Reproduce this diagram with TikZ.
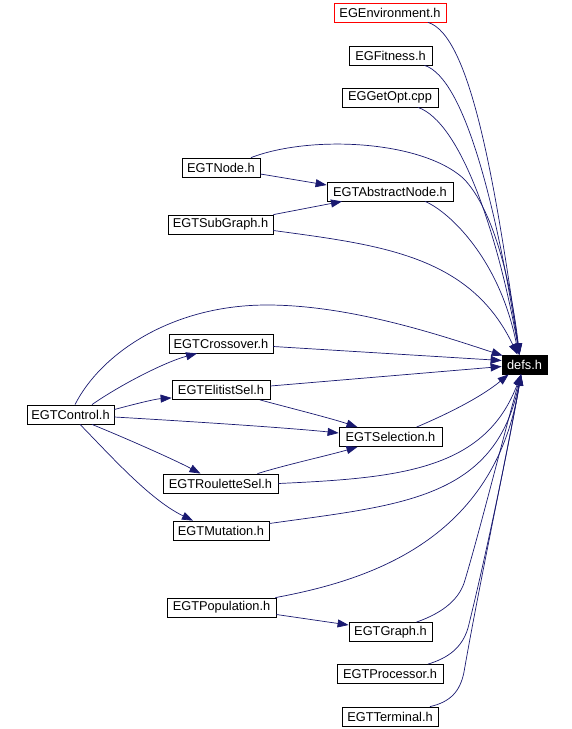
\documentclass[tikz,border=0pt]{standalone}
\usepackage{fontspec}
\setmainfont{Liberation Sans}
\usetikzlibrary{arrows.meta,calc}
\definecolor{edgeblue}{RGB}{25,25,112}
\begin{document}
\begin{tikzpicture}[x=1pt,y=-1pt,
  box/.style={draw=black,fill=white,line width=0.8pt,minimum height=19pt,inner sep=0pt,font=\fontsize{12.8}{14}\selectfont},
  redbox/.style={box,draw=red},
  defsbox/.style={box,fill=black,text=white,draw=black},
  dep/.style={draw=edgeblue,line width=0.7pt,-{Triangle[length=11pt,width=8pt]},fill=none}
]
\useasboundingbox (0,0) rectangle (572,729);
% nodes
\node[redbox,minimum width=112pt] (env) at (390,12.5) {EGEnvironment.h};
\node[box,minimum width=83pt] (fit) at (390.5,55.5) {EGFitness.h};
\node[box,minimum width=96pt] (gopt) at (390,97.5) {EGGetOpt.cpp};
\node[box,minimum width=78pt] (tnode) at (221,167.5) {EGTNode.h};
\node[box,minimum width=126pt] (absn) at (390,191.5) {EGTAbstractNode.h};
\node[box,minimum width=105pt] (subg) at (220.5,224.5) {EGTSubGraph.h};
\node[box,minimum width=104pt] (cross) at (221,343.5) {EGTCrossover.h};
\node[box,minimum width=98pt] (elit) at (221,390) {EGTElitistSel.h};
\node[box,minimum width=87pt] (ctrl) at (70.5,414.5) {EGTControl.h};
\node[defsbox,minimum width=45pt] (defs) at (524.5,364.5) {defs.h};
\node[box,minimum width=103pt] (sel) at (390.5,437) {EGTSelection.h};
\node[box,minimum width=115pt] (roul) at (220.5,483.5) {EGTRouletteSel.h};
\node[box,minimum width=96pt] (mut) at (221,530.5) {EGTMutation.h};
\node[box,minimum width=109pt] (pop) at (221.5,607.5) {EGTPopulation.h};
\node[box,minimum width=83pt] (graph) at (390.5,632) {EGTGraph.h};
\node[box,minimum width=106pt] (proc) at (390,674) {EGTProcessor.h};
\node[box,minimum width=96pt] (term) at (390,716.5) {EGTTerminal.h};
% edges into defs from above
\draw[dep] ($(env.south)+(38,0)$) .. controls (470,35) and (495,180) .. ($(defs.north)+(-5,0)$);
\draw[dep] ($(fit.south)+(34,0)$) .. controls (465,78) and (497,210) .. ($(defs.north)+(-5,0)$);
\draw[dep] ($(gopt.south)+(28,0)$) .. controls (460,122) and (497,230) .. ($(defs.north)+(-5,0)$);
\draw[dep] ($(tnode.north)+(30,0)$) .. controls (310,135) and (420,140) .. (463,178) .. controls (495,210) and (512,290) .. ($(defs.north)+(-5,0)$);
\draw[dep] ($(absn.south)+(35,0)$) .. controls (450,212) and (500,260) .. ($(defs.north)+(-6,0)$);
\draw[dep] ($(subg.east)+(0,6)$) .. controls (380,245) and (470,255) .. ($(defs.north)+(-7,0)$);
\draw[dep] ($(ctrl.north)+(4.5,0)$) .. controls (100,355) and (170,305) .. (267,305) .. controls (350,305) and (440,335) .. ($(defs.north west)+(1,1)$);
% local edges
\draw[dep] ($(tnode.east)+(0,6.5)$) -- ($(absn.west)+(0,-6.5)$);
\draw[dep] (subg.north east) -- ($(absn.south)+(-48,0)$);
\draw[dep] ($(ctrl.north)+(21.5,0)$) .. controls (120,385) and (165,362) .. ($(cross.south)+(-24,0)$);
\draw[dep] ($(ctrl.east)+(0,-5)$) .. controls (135,404) and (155,399) .. ($(elit.south west)+(0,-2)$);
\draw[dep] ($(ctrl.east)+(0,2.5)$) .. controls (200,422) and (290,428) .. ($(sel.west)+(0,-4)$);
\draw[dep] ($(ctrl.south)+(21.5,0)$) .. controls (130,440) and (175,460) .. ($(roul.north)+(-20,0)$);
\draw[dep] ($(ctrl.south)+(9.5,0)$) .. controls (110,455) and (150,500) .. ($(mut.north)+(-28,0)$);
\draw[dep] ($(elit.south)+(39,0)$) .. controls (290,408) and (330,418) .. ($(sel.north)+(-33,0)$);
\draw[dep] ($(roul.north)+(37,0)$) .. controls (285,465) and (330,455) .. ($(sel.south)+(-33,0)$);
\draw[dep] ($(pop.east)+(0,7)$) -- ($(graph.west)+(0,-7)$);
% edges into defs from the left
\draw[dep] ($(cross.east)+(0,3)$) -- ($(defs.west)+(0,-4)$);
\draw[dep] ($(elit.east)+(0,-4)$) -- ($(defs.west)+(0,2)$);
% edges into defs from below
\draw[dep] ($(sel.north)+(26,0)$) .. controls (445,415) and (480,398) .. ($(defs.south west)+(7,0)$);
\draw[dep] (roul.east) .. controls (400,478) and (485,470) .. ($(defs.south)+(-3.5,0)$);
\draw[dep] ($(mut.east)+(0,-7)$) .. controls (400,505) and (495,500) .. ($(defs.south)+(-3.5,0)$);
\draw[dep] ($(pop.north east)+(-1,0)$) .. controls (370,580) and (495,540) .. ($(defs.south)+(-3.5,0)$);
\draw[dep] ($(graph.north)+(26,0)$) .. controls (445,612) and (460,598) .. (465,580) .. controls (480,530) and (505,430) .. ($(defs.south)+(-3.5,0)$);
\draw[dep] ($(proc.north)+(38,0)$) .. controls (448,658) and (462,648) .. (468,628) .. controls (485,560) and (510,440) .. ($(defs.south)+(-3.5,0)$);
\draw[dep] ($(term.north)+(40,0)$) .. controls (450,702) and (460,692) .. (464,672) .. controls (480,580) and (510,440) .. ($(defs.south)+(-3.5,0)$);
\end{tikzpicture}
\end{document}
